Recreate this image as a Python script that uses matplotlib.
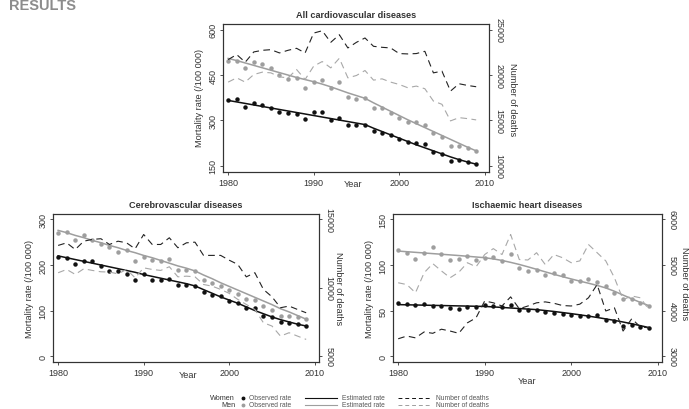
import numpy as np
import matplotlib
matplotlib.use('Agg')
from matplotlib import pyplot as plt
from matplotlib.lines import Line2D

plt.rcParams['font.family'] = ['Liberation Sans', 'DejaVu Sans']

years = np.arange(1980, 2010)

'''All cardiovascular diseases'''
cvd_women_obs = [366, 370, 345, 356, 352, 342, 329, 325, 321, 303, 326, 326, 300, 309, 285,
                 285, 285, 265, 259, 250, 237, 228, 224, 221, 195, 188, 164, 168, 162, 157]
cvd_women_est = [366, 361, 356, 351, 346, 341, 336, 331, 326, 321, 316, 311, 306, 301, 296,
                 291, 286, 274, 263, 252, 241, 230, 219, 209, 199, 189, 179, 170, 162, 155]
cvd_men_obs = [498, 498, 474, 492, 487, 474, 450, 436, 441, 406, 427, 432, 408, 427, 377,
               372, 373, 342, 340, 323, 307, 296, 294, 285, 258, 244, 215, 215, 207, 199]
cvd_men_est = [505, 498, 490, 482, 474, 466, 458, 450, 442, 435, 428, 420, 411, 401, 391,
               382, 373, 358, 344, 330, 316, 302, 289, 276, 263, 250, 237, 224, 211, 199]
cvd_women_deaths = [21700, 22260, 21420, 22550, 22730, 22800, 22440, 22730, 22950, 22440,
                    24630, 24890, 23610, 24450, 22990, 23610, 24090, 23170, 23060, 22990,
                    22370, 22330, 22370, 22620, 20240, 20430, 18230, 19040, 18850, 18710]
cvd_men_deaths = [19220, 19690, 19220, 20060, 20320, 20240, 19800, 19690, 20610, 19510,
                  20980, 21490, 20790, 21850, 19690, 19950, 20500, 19440, 19580, 19220,
                  18960, 18600, 18780, 18490, 17130, 16770, 14940, 15300, 15190, 15050]

'''Cerebrovascular diseases'''
cbv_women_obs = [218, 216, 203, 208, 208, 198, 187, 187, 181, 168, 181, 168, 166, 170, 155,
                 157, 153, 140, 135, 132, 122, 117, 105, 105, 89, 85, 75, 73, 70, 67]
cbv_women_est = [220, 216, 212, 208, 204, 200, 196, 192, 188, 184, 179, 175, 171, 167, 163,
                 159, 154, 146, 138, 130, 123, 116, 108, 100, 93, 86, 80, 75, 70, 66]
cbv_men_obs = [271, 272, 256, 266, 255, 247, 239, 229, 232, 209, 218, 212, 208, 214, 190,
               188, 187, 167, 161, 154, 146, 137, 126, 123, 110, 102, 89, 88, 86, 82]
cbv_men_est = [276, 271, 265, 260, 254, 249, 243, 238, 232, 227, 221, 216, 210, 204, 198,
               193, 187, 178, 170, 161, 153, 145, 137, 129, 121, 113, 104, 97, 89, 81]
cbv_women_deaths = [13100, 13290, 12800, 13410, 13540, 13590, 13170, 13410, 13290, 12850,
                    13900, 13170, 13170, 13660, 12930, 13290, 13340, 12370, 12370, 12370,
                    12020, 11710, 10800, 11100, 9880, 9340, 8540, 8660, 8410, 8170]
cbv_men_deaths = [11100, 11340, 10980, 11390, 11270, 11170, 11150, 11020, 11340, 10730,
                  11460, 11340, 11270, 11540, 10800, 10850, 10800, 10240, 10120, 9880,
                  9590, 9150, 8780, 8410, 7440, 7200, 6460, 6710, 6460, 6220]

'''Ischaemic heart diseases'''
ihd_women_obs = [57.8, 57.0, 56.0, 56.7, 55.2, 55.2, 53.0, 51.6, 54.2, 53.4, 56.3, 55.2, 54.2,
                 56.0, 50.9, 50.1, 50.1, 48.7, 47.6, 46.5, 45.0, 43.5, 43.9, 45.4, 39.5, 38.0,
                 32.9, 34.4, 31.8, 31.1]
ihd_women_est = [56.5, 56.3, 56.1, 55.9, 55.7, 55.5, 55.3, 55.1, 54.9, 54.7, 54.5, 54.0, 53.4,
                 52.8, 52.2, 51.6, 51.0, 50.0, 49.0, 47.8, 46.6, 45.3, 43.9, 42.4, 40.8, 39.2,
                 37.4, 35.5, 33.4, 31.3]
ihd_men_obs = [116.4, 113.4, 106.8, 113.4, 120.0, 112.0, 105.4, 106.8, 109.8, 105.0, 108.0,
               109.0, 104.3, 111.6, 97.0, 93.7, 95.0, 89.0, 91.5, 88.5, 82.3, 82.3, 85.0, 81.2,
               76.8, 68.8, 62.2, 62.2, 58.5, 55.2]
ihd_men_est = [115.3, 114.6, 113.9, 113.2, 112.5, 111.8, 111.1, 110.4, 109.6, 108.8, 108.0,
               106.7, 105.0, 102.9, 100.6, 98.0, 95.3, 92.5, 89.8, 87.2, 84.7, 82.3, 80.0, 77.6,
               74.8, 71.2, 67.0, 62.9, 58.9, 55.3]
ihd_women_deaths = [3380, 3440, 3400, 3530, 3500, 3590, 3550, 3500, 3730, 3840, 4210, 4170,
                    4100, 4300, 4040, 4100, 4170, 4190, 4160, 4110, 4100, 4140, 4280, 4570,
                    3990, 4060, 3550, 3820, 3640, 3620]
ihd_men_deaths = [4610, 4570, 4390, 4830, 5030, 4870, 4720, 4840, 5050, 4960, 5230, 5360,
                  5230, 5670, 5120, 5110, 5270, 5010, 5230, 5160, 5050, 5090, 5450, 5270,
                  5090, 4720, 4240, 4320, 4280, 4020]

x_ticks = [1980, 1990, 2000, 2010]

W, H = 689, 410
TXT = '#333333'
BLACK = '#111111'
GREY = '#9e9e9e'

fig = plt.figure(figsize=(W / 100, H / 100), dpi=100)


def fx(x):
    return x / W


def fy(y):
    return 1 - y / H


def draw_panel(left, top, right, bottom, title, rate_lim, rate_ticks, death_lim, death_ticks,
               w_obs, w_est, m_obs, m_est, w_deaths, m_deaths):
    ax = fig.add_axes([fx(left), fy(bottom), (right - left) / W, (bottom - top) / H])
    ax2 = ax.twinx()

    ax2.plot(years, w_deaths, color='#222222', lw=0.8, dashes=(6, 4))
    ax2.plot(years, m_deaths, color='#a8a8a8', lw=0.8, dashes=(6, 4))
    ax.plot(years, w_est, color=BLACK, lw=1.1, zorder=3)
    ax.plot(years, m_est, color=GREY, lw=1.1, zorder=3)
    ax.plot(years, w_obs, 'o', color=BLACK, ms=2.2, zorder=4)
    ax.plot(years, m_obs, 'o', color=GREY, ms=2.2, zorder=4)

    ax.set_xlim(1979.4, 2010.5)
    ax.set_ylim(rate_lim)
    ax2.set_ylim(death_lim)
    ax.set_xticks(x_ticks)
    ax.set_yticks(rate_ticks)
    ax2.set_yticks(death_ticks)

    for a in (ax, ax2):
        for s in a.spines.values():
            s.set_color('#333333')
            s.set_linewidth(0.8)
        a.tick_params(direction='out', length=2.5, width=0.6, labelsize=6.5,
                      colors=TXT, pad=1.5)
    ax.tick_params(axis='y', labelrotation=90)
    ax2.tick_params(axis='y', labelrotation=270)
    for t in ax.get_yticklabels() + ax2.get_yticklabels():
        t.set_va('center')

    fig.text(fx((left + right) / 2), fy(top - 9), title, ha='center', va='center',
             fontsize=6.6, fontweight='bold', color=TXT)
    return ax


draw_panel(223, 25, 489, 173, 'All cardiovascular diseases', (129, 619), [150, 300, 450, 600],
           (9300, 25633), [10000, 15000, 20000, 25000],
           cvd_women_obs, cvd_women_est, cvd_men_obs, cvd_men_est,
           cvd_women_deaths, cvd_men_deaths)
draw_panel(53, 215, 319, 363, 'Cerebrovascular diseases', (-13, 312), [0, 100, 200, 300],
           (4567, 15400), [5000, 10000, 15000],
           cbv_women_obs, cbv_women_est, cbv_men_obs, cbv_men_est,
           cbv_women_deaths, cbv_men_deaths)
draw_panel(393, 215, 662, 363, 'Ischaemic heart diseases', (-6.5, 156), [0, 50, 100, 150],
           (2870, 6120), [3000, 4000, 5000, 6000],
           ihd_women_obs, ihd_women_est, ihd_men_obs, ihd_men_est,
           ihd_women_deaths, ihd_men_deaths)

'''Axis titles'''
lab = dict(fontsize=6.6, color=TXT, ha='center', va='center')
fig.text(fx(200), fy(98), 'Mortality rate (/100 000)', rotation=90, **lab)
fig.text(fx(512), fy(100), 'Number of deaths', rotation=270, **lab)
fig.text(fx(353), fy(185), 'Year', **lab)
fig.text(fx(30), fy(289), 'Mortality rate (/100 000)', rotation=90, **lab)
fig.text(fx(339), fy(289), 'Number of deaths', rotation=270, **lab)
fig.text(fx(188), fy(376), 'Year', **lab)
fig.text(fx(370), fy(289), 'Mortality rate (/100 000)', rotation=90, **lab)
fig.text(fx(684), fy(284), 'Number of deaths', rotation=270, **lab)
fig.text(fx(527), fy(382), 'Year', **lab)

'''Legend at the bottom'''
leg = dict(fontsize=4.8, color='#555555', va='center')
for row_y, who, col in [(398.5, 'Women', BLACK), (405.5, 'Men', GREY)]:
    fig.text(fx(235), fy(row_y), who, ha='right', fontsize=5.2, color=TXT, va='center')
    fig.add_artist(Line2D([fx(243)], [fy(row_y)], marker='o', ms=1.8, color=col, lw=0,
                          transform=fig.transFigure))
    fig.text(fx(249), fy(row_y), 'Observed rate', ha='left', **leg)
    fig.add_artist(Line2D([fx(305), fx(337)], [fy(row_y), fy(row_y)], color=col, lw=0.8,
                          transform=fig.transFigure))
    fig.text(fx(342), fy(row_y), 'Estimated rate', ha='left', **leg)
    fig.add_artist(Line2D([fx(398), fx(432)], [fy(row_y), fy(row_y)], color=col, lw=0.7,
                          dashes=(4, 3), transform=fig.transFigure))
    fig.text(fx(436), fy(row_y), 'Number of deaths', ha='left', **leg)

fig.text(fx(9), fy(10.5), 'RESULTS', fontsize=10.5, fontweight='bold', color='#8c8c8c',
         ha='left', va='baseline')

fig.savefig('out.png', dpi=100)
